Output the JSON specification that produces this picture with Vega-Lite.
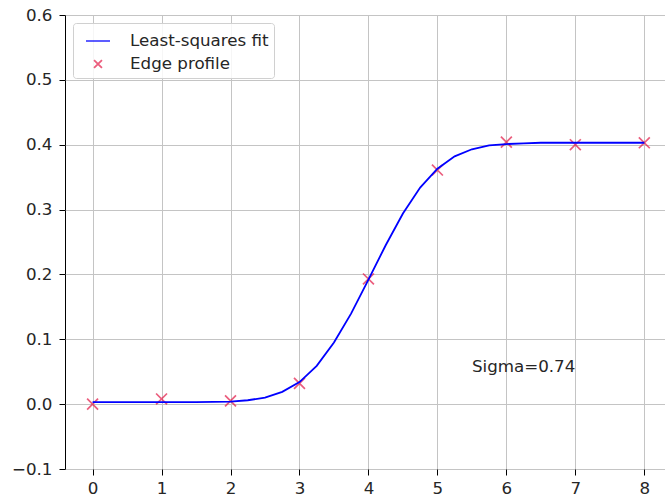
{
  "$schema": "https://vega.github.io/schema/vega-lite/v6.json",
  "autosize": "none",
  "padding": {"left": 65, "top": 15, "right": 0, "bottom": 26},
  "width": 600,
  "height": 454,
  "background": "white",
  "datasets": {
    "fit": [
      {"x": 0, "y": 0.003}, {"x": 0.25, "y": 0.003}, {"x": 0.5, "y": 0.003}, {"x": 0.75, "y": 0.003},
      {"x": 1, "y": 0.003}, {"x": 1.25, "y": 0.003}, {"x": 1.5, "y": 0.003}, {"x": 1.75, "y": 0.0034},
      {"x": 2, "y": 0.004}, {"x": 2.25, "y": 0.006}, {"x": 2.5, "y": 0.010}, {"x": 2.75, "y": 0.019},
      {"x": 3, "y": 0.034}, {"x": 3.25, "y": 0.059}, {"x": 3.5, "y": 0.095}, {"x": 3.75, "y": 0.140},
      {"x": 4, "y": 0.192}, {"x": 4.25, "y": 0.245}, {"x": 4.5, "y": 0.294}, {"x": 4.75, "y": 0.334},
      {"x": 5, "y": 0.363}, {"x": 5.25, "y": 0.382}, {"x": 5.5, "y": 0.393}, {"x": 5.75, "y": 0.399},
      {"x": 6, "y": 0.401}, {"x": 6.25, "y": 0.402}, {"x": 6.5, "y": 0.403}, {"x": 6.75, "y": 0.403},
      {"x": 7, "y": 0.403}, {"x": 7.25, "y": 0.403}, {"x": 7.5, "y": 0.403}, {"x": 7.75, "y": 0.403},
      {"x": 8, "y": 0.403}
    ],
    "edge": [
      {"x": 0, "y": 0.0}, {"x": 1, "y": 0.008}, {"x": 2, "y": 0.005}, {"x": 3, "y": 0.032},
      {"x": 4, "y": 0.193}, {"x": 5, "y": 0.361}, {"x": 6, "y": 0.404}, {"x": 7, "y": 0.400},
      {"x": 8, "y": 0.403}
    ],
    "note": [{"x": 5.5, "y": 0.05, "label": "Sigma=0.74"}]
  },
  "encoding": {
    "x": {
      "field": "x", "type": "quantitative",
      "scale": {"domain": [-0.4, 8.3], "nice": false, "zero": false},
      "axis": {"values": [0, 1, 2, 3, 4, 5, 6, 7, 8], "title": null}
    },
    "y": {
      "field": "y", "type": "quantitative",
      "scale": {"domain": [-0.1, 0.6], "nice": false, "zero": false},
      "axis": {"values": [-0.1, 0, 0.1, 0.2, 0.3, 0.4, 0.5, 0.6], "format": ".1f", "title": null, "labelPadding": 7}
    }
  },
  "layer": [
    {
      "data": {"name": "edge"},
      "transform": [{"calculate": "'Edge profile'", "as": "series"}],
      "mark": {"type": "point", "filled": false, "strokeWidth": 1.7, "size": 1100},
      "encoding": {
        "color": {
          "field": "series", "type": "nominal",
          "scale": {"domain": ["Least-squares fit", "Edge profile"], "range": ["#0000ff", "#e31a47"]},
          "legend": {
            "title": null,
            "symbolSize": 576,
            "symbolOffset": 7,
            "encode": {"symbols": {"update": {"size": {"value": 1100}}}}
          }
        },
        "shape": {
          "field": "series", "type": "nominal",
          "scale": {"domain": ["Least-squares fit", "Edge profile"], "range": ["stroke", "M-0.33,-0.33L0.33,0.33M0.33,-0.33L-0.33,0.33"]},
          "legend": {
            "title": null,
            "symbolSize": 576,
            "symbolOffset": 7,
            "encode": {"symbols": {"update": {"size": {"value": 1100}}}}
          }
        }
      }
    },
    {
      "data": {"name": "fit"},
      "transform": [{"calculate": "'Least-squares fit'", "as": "series"}],
      "mark": {"type": "line", "strokeWidth": 1.8},
      "encoding": {
        "color": {"field": "series", "type": "nominal", "legend": {"title": null}}
      }
    },
    {
      "data": {"name": "note"},
      "mark": {"type": "text", "align": "left", "baseline": "alphabetic", "font": "DejaVu Sans", "fontSize": 16.7, "color": "#262626"},
      "encoding": {"text": {"field": "label"}}
    }
  ],
  "config": {
    "font": "DejaVu Sans",
    "view": {"stroke": "black", "strokeWidth": 1},
    "axis": {
      "domain": false,
      "grid": true,
      "gridColor": "#c4c4c4",
      "gridWidth": 1,
      "tickColor": "black",
      "tickSize": 6,
      "tickWidth": 1,
      "labelFont": "DejaVu Sans",
      "labelFontSize": 16.7,
      "labelColor": "#262626",
      "labelPadding": 5
    },
    "legend": {
      "orient": "top-left",
      "offset": 8,
      "padding": 5,
      "strokeColor": "#d0d0d0",
      "fillColor": "rgba(255,255,255,0.85)",
      "cornerRadius": 3,
      "labelFont": "DejaVu Sans",
      "labelFontSize": 16.7,
      "labelColor": "#262626",
      "labelOffset": 19,
      "symbolStrokeWidth": 1.8,
      "rowPadding": 1
    }
  }
}
